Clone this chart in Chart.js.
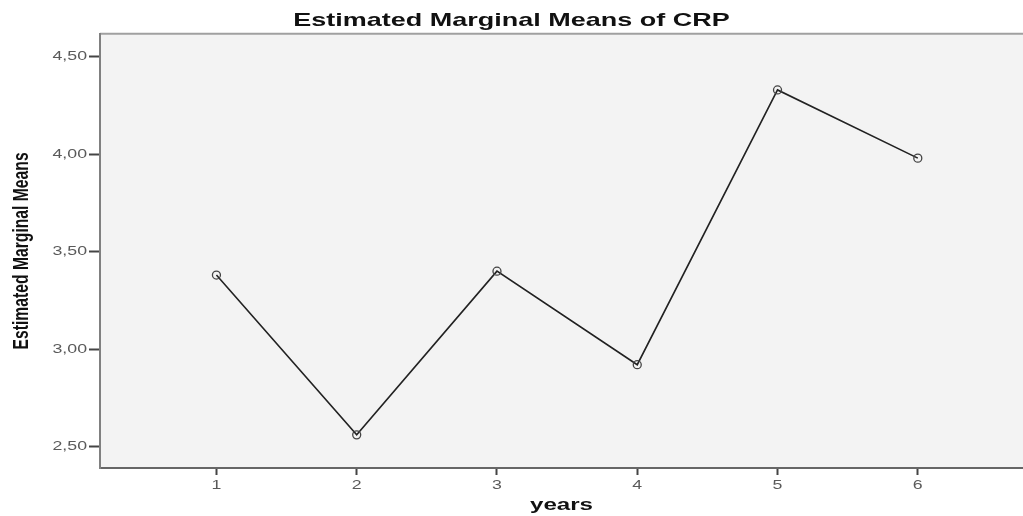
<!DOCTYPE html>
<html>
<head>
<meta charset="utf-8">
<title>Estimated Marginal Means of CRP</title>
<script src="https://cdn.jsdelivr.net/npm/chart.js@4/dist/chart.umd.min.js"></script>
<style>
  html, body { margin: 0; padding: 0; background: #fff; }
  .wrap { position: relative; width: 1023px; height: 516px; }
</style>
</head>
<body>
<div class="wrap"><canvas id="emmChart"></canvas></div>
<script>
// ========== Estimated Marginal Means of CRP ==========

// ── 数据 ──
var years = [1, 2, 3, 4, 5, 6];
var crpMeans = [3.38, 2.56, 3.40, 2.92, 4.33, 3.98];
var xTicks = [1, 2, 3, 4, 5, 6];
var yTicks = [2.5, 3.0, 3.5, 4.0, 4.5];

var TITLE = 'Estimated Marginal Means of CRP';
var Y_TITLE = 'Estimated Marginal Means';
var X_TITLE = 'years';

// 原图整体被横向拉伸过，文字也跟着变宽
var STRETCH_X = 1.42;
var FONT = "'Liberation Sans', Arial, sans-serif";

var ctx = document.getElementById('emmChart').getContext('2d');

// ── 文字横向拉伸（绕锚点，按屏幕 x 方向） ──
var rawFillText = ctx.fillText;
ctx.fillText = function(text, x, y, maxWidth) {
  var m = this.getTransform();
  var p = m.transformPoint(new DOMPoint(x, y));
  var n = new DOMMatrix().translate(p.x, p.y).scale(STRETCH_X, 1).translate(-p.x, -p.y).multiply(m);
  this.setTransform(n);
  if (maxWidth === undefined) rawFillText.call(this, text, x, y);
  else rawFillText.call(this, text, x, y, maxWidth);
  this.setTransform(m);
};

// ── 灰色绘图区 + 上边框 ──
var plotBg = {
  id: 'plotBg',
  beforeDraw: function(chart) {
    var c = chart.ctx, a = chart.chartArea;
    c.save();
    c.fillStyle = '#f3f3f3';
    c.fillRect(a.left, a.top, a.right - a.left, a.bottom - a.top);
    c.strokeStyle = '#a0a0a0';
    c.lineWidth = 2;
    c.beginPath();
    c.moveTo(a.left, a.top);
    c.lineTo(a.right, a.top);
    c.stroke();
    c.restore();
  }
};

var emmChart = new Chart(ctx, {
  type: 'line',
  data: {
    datasets: [{
      label: 'CRP',
      data: years.map(function(y, i) { return { x: y, y: crpMeans[i] }; }),
      borderColor: '#222',
      borderWidth: 1.6,
      tension: 0,
      pointRadius: 4,
      pointBorderWidth: 1.3,
      pointBorderColor: '#444',
      pointBackgroundColor: 'rgba(0,0,0,0)'
    }]
  },
  options: {
    responsive: true, maintainAspectRatio: false,
    animation: false,
    layout: { autoPadding: false, padding: 0 },
    plugins: {
      legend: { display: false },
      tooltip: { enabled: false },
      title: {
        display: true,
        text: TITLE,
        color: '#111',
        font: { family: FONT, size: 19, weight: 'bold' },
        padding: { top: 9, bottom: 2 }
      }
    },
    scales: {
      x: {
        type: 'linear',
        min: 0.17, max: 6.75,
        afterFit: function(s) { s.height = 48; },
        afterBuildTicks: function(s) { s.ticks = xTicks.map(function(v) { return { value: v }; }); },
        grid: { drawOnChartArea: false, drawTicks: true, tickLength: 7, tickColor: '#444', tickWidth: 2 },
        border: { color: '#666', width: 2 },
        ticks: {
          color: '#5a5a5a', padding: 3,
          font: { family: FONT, size: 12.5 },
          callback: function(v) { return String(v); }
        },
        title: {
          display: true, text: X_TITLE, color: '#111',
          font: { family: FONT, size: 17, weight: 'bold' },
          padding: { top: 0, bottom: 0 }
        }
      },
      y: {
        min: 2.39, max: 4.618,
        afterFit: function(s) { s.width = 100; },
        afterBuildTicks: function(s) { s.ticks = yTicks.map(function(v) { return { value: v }; }); },
        grid: { drawOnChartArea: false, drawTicks: true, tickLength: 11, tickColor: '#444', tickWidth: 2 },
        border: { color: '#808080', width: 2 },
        ticks: {
          color: '#5a5a5a', padding: 2,
          font: { family: FONT, size: 12.5 },
          callback: function(v) { return v.toFixed(2).replace('.', ','); }
        },
        title: {
          display: true, text: Y_TITLE, color: '#111',
          font: { family: FONT, size: 15.7, weight: 'bold' },
          padding: { top: 12.5, bottom: 0 }
        }
      }
    }
  },
  plugins: [plotBg]
});
</script>
</body>
</html>
